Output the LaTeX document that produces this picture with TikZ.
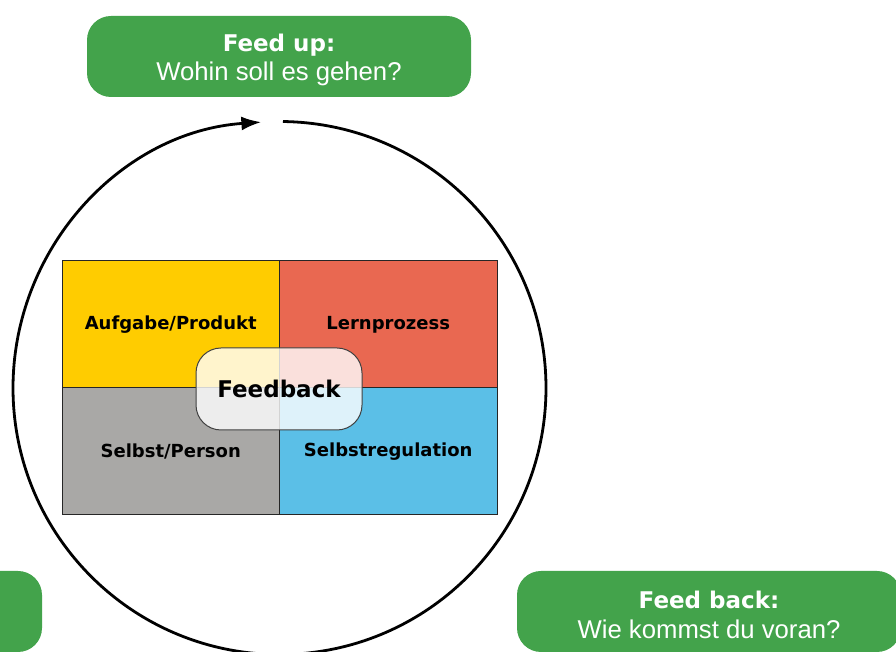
\documentclass[tikz,border=0pt]{standalone}
\usepackage{fontspec}
\setmainfont{Liberation Sans}
\newfontfamily\heavyfont{DejaVu Sans}
\usetikzlibrary{arrows.meta}

\definecolor{fbgreen}{HTML}{43A34B}
\definecolor{fbyellow}{HTML}{FFCC00}
\definecolor{fbred}{HTML}{E96851}
\definecolor{fbblue}{HTML}{5BBFE7}
\definecolor{fbgray}{HTML}{A9A8A6}

\tikzset{
  quadrant/.style={draw=black!85, line width=1pt, minimum width=217.5pt,
    minimum height=127pt, inner sep=0pt,
    font=\fontsize{18}{21}\selectfont\heavyfont\bfseries},
  greenbox/.style={fill=fbgreen, rounded corners=24pt, minimum width=384pt,
    minimum height=81pt, text=white, align=center,
    font=\fontsize{25.7}{29.5}\selectfont},
  hub/.style={fill=white, fill opacity=0.8, text opacity=1, draw=black!75,
    line width=1pt, rounded corners=25pt, minimum width=166pt,
    minimum height=82pt, font=\fontsize{23}{27}\selectfont\heavyfont\bfseries},
}
\newcommand{\boxhead}[1]{{\fontsize{23}{29.5}\selectfont\heavyfont\bfseries\rule{0pt}{24pt}#1}}

\begin{document}
\begin{tikzpicture}[x=1pt,y=1pt]
  \useasboundingbox (0,0) rectangle (896,652);
  \clip (0,0) rectangle (896,652);
  \node[quadrant, fill=fbyellow] (task) at (170.75,327.5) {Aufgabe/Produkt};
  \node[quadrant, fill=fbred] (process) at (388.25,327.5) {Lernprozess};
  \node[quadrant, fill=fbgray] (self) at (170.75,200.5) {Selbst/Person};
  \node[quadrant, fill=fbblue] (regulation) at (388.25,200.5) {Selbstregulation};
  \node[hub] (feedback) at (279,263) {Feedback};
  \coordinate (center) at (279.5,264);
  \draw[line width=2.8pt, -{Latex[length=20pt,width=14pt]}]
    (center) ++(89.25:266.5) arc[start angle=89.25, end angle=-266.1, radius=266.5];
  \node[greenbox] (feedup) at (279,595.5) {\boxhead{Feed up:}\\Wohin soll es gehen?};
  \node[greenbox] (feedbackbox) at (709,40.5) {\boxhead{Feed back:}\\Wie kommst du voran?};
  \node[greenbox] (feedforward) at (-150,40.5) {};
\end{tikzpicture}
\end{document}
